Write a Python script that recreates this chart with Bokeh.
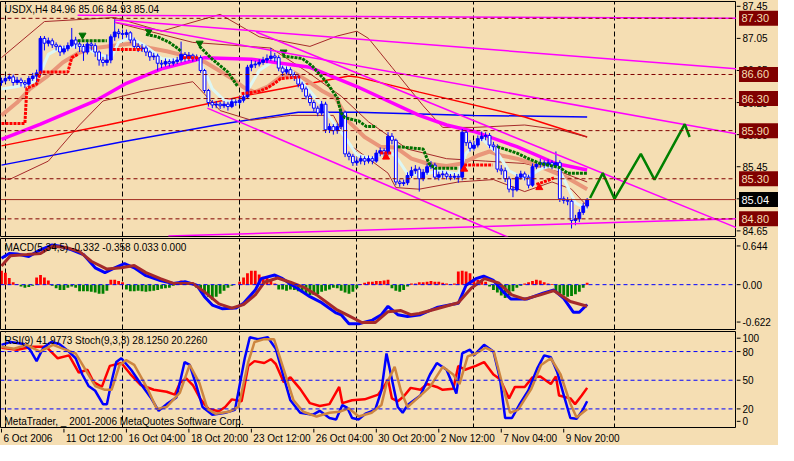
from bokeh.plotting import figure
from bokeh.layouts import column, row
from bokeh.models import ColumnDataSource, FixedTicker, Span, Label, Range1d
from bokeh.core.properties import value
from bokeh.embed import file_html
from bokeh.resources import INLINE

BG = "#F5DEB3"
FONT = "Liberation Sans"

# ---------------- price data (H4 bars, index 0 = 6 Oct 2006 20:00) ----------------
OPENS = [86.50,86.52,86.55,86.57,86.50,86.53,86.50,86.48,86.55,86.58,
 86.62,87.05,86.99,87.02,86.97,86.95,86.88,86.92,86.96,87.03,
 86.98,86.95,86.88,86.98,86.96,86.88,86.78,86.75,86.78,87.07,
 87.13,87.11,87.10,87.12,87.03,86.95,86.92,86.93,86.88,86.82,
 86.83,86.74,86.73,86.76,86.74,86.76,86.78,86.85,86.80,86.84,
 86.80,86.81,86.65,86.40,86.25,86.22,86.23,86.21,86.23,86.20,
 86.26,86.25,86.28,86.32,86.69,86.72,86.73,86.75,86.78,86.80,
 86.83,86.81,86.68,86.63,86.66,86.60,86.57,86.48,86.42,86.33,
 86.25,86.18,86.12,86.23,85.91,85.95,85.90,85.95,86.13,85.61,
 85.58,85.50,85.52,85.55,85.52,85.55,85.52,85.62,85.65,85.62,
 85.83,85.78,85.26,85.24,85.25,85.34,85.40,85.42,85.30,85.38,
 85.45,85.47,85.32,85.35,85.36,85.33,85.32,85.33,85.32,85.88,
 85.75,85.68,85.72,85.80,85.83,85.84,85.72,85.70,85.42,85.40,
 85.30,85.17,85.16,85.32,85.36,85.32,85.22,85.45,85.48,85.50,
 85.47,85.50,85.46,85.50,85.05,85.03,85.02,84.78,84.80,84.88,
 84.96]
HIGHS = [86.56,86.58,86.61,86.60,86.57,86.56,86.53,86.58,86.62,86.66,
 87.08,87.08,87.06,87.05,87.00,86.97,86.96,87.00,87.18,87.07,
 87.02,86.98,87.02,87.01,86.99,86.90,86.82,86.85,87.10,87.29,
 87.17,87.16,87.16,87.14,87.06,86.99,86.98,86.96,86.90,86.87,
 86.86,86.78,86.80,86.79,86.80,86.82,87.01,86.88,86.88,86.86,
 86.85,86.84,86.67,86.42,86.28,86.27,86.26,86.27,86.26,86.30,
 86.29,86.32,86.36,86.72,86.78,86.77,86.79,86.82,86.85,86.93,
 86.87,86.84,86.71,86.70,86.69,86.63,86.60,86.51,86.45,86.36,
 86.28,86.21,86.27,86.26,85.99,85.98,85.99,86.17,86.15,85.64,
 85.61,85.57,85.59,85.58,85.59,85.58,85.66,85.69,85.68,85.88,
 85.87,85.80,85.29,85.29,85.38,85.45,85.47,85.45,85.42,85.49,
 85.52,85.50,85.39,85.40,85.39,85.36,85.37,85.36,85.92,85.90,
 85.78,85.77,85.84,85.89,85.88,85.87,85.76,85.73,85.47,85.44,
 85.33,85.21,85.36,85.40,85.39,85.35,85.49,85.52,85.55,85.53,
 85.54,85.53,85.64,85.53,85.08,85.07,85.05,84.85,84.92,85.00,
 85.06]
LOWS = [86.46,86.49,86.52,86.46,86.47,86.45,86.43,86.45,86.52,86.50,
 86.58,86.90,86.95,86.93,86.90,86.83,86.85,86.89,86.94,86.92,
 86.88,86.77,86.85,86.90,86.82,86.71,86.70,86.71,86.74,87.02,
 87.05,87.04,87.06,86.99,86.91,86.88,86.88,86.83,86.77,86.78,
 86.65,86.68,86.70,86.70,86.71,86.73,86.75,86.76,86.77,86.76,
 86.77,86.62,86.37,86.20,86.18,86.18,86.17,86.18,86.15,86.18,
 86.21,86.22,86.25,86.30,86.64,86.68,86.70,86.72,86.74,86.77,
 86.76,86.64,86.58,86.60,86.56,86.52,86.44,86.38,86.29,86.21,
 86.14,86.08,86.09,85.87,85.87,85.85,85.86,85.92,85.57,85.53,
 85.46,85.46,85.48,85.47,85.49,85.48,85.50,85.58,85.57,85.59,
 85.73,85.22,85.20,85.21,85.22,85.31,85.36,85.14,85.27,85.35,
 85.42,85.29,85.28,85.31,85.29,85.28,85.29,85.25,85.28,85.71,
 85.64,85.65,85.69,85.77,85.78,85.68,85.65,85.38,85.35,85.26,
 85.13,85.07,85.14,85.29,85.28,85.18,85.20,85.42,85.44,85.43,
 85.44,85.42,85.43,85.01,84.99,84.97,84.68,84.72,84.76,84.85,
 84.93]
CLOSES = [86.52,86.55,86.57,86.50,86.53,86.50,86.48,86.55,86.58,86.62,
 87.05,86.99,87.02,86.97,86.95,86.88,86.92,86.96,87.03,86.98,
 86.95,86.88,86.98,86.96,86.88,86.78,86.75,86.78,87.07,87.13,
 87.11,87.10,87.12,87.03,86.95,86.92,86.93,86.88,86.82,86.83,
 86.74,86.73,86.76,86.74,86.76,86.78,86.85,86.80,86.84,86.80,
 86.81,86.65,86.40,86.25,86.22,86.23,86.21,86.23,86.20,86.26,
 86.25,86.28,86.32,86.69,86.72,86.73,86.75,86.78,86.80,86.83,
 86.81,86.68,86.63,86.66,86.60,86.57,86.48,86.42,86.33,86.25,
 86.18,86.12,86.23,85.91,85.95,85.90,85.95,86.13,85.61,85.58,
 85.50,85.52,85.55,85.52,85.55,85.52,85.62,85.65,85.62,85.83,
 85.78,85.26,85.24,85.25,85.34,85.40,85.42,85.30,85.38,85.45,
 85.47,85.32,85.35,85.36,85.33,85.32,85.33,85.32,85.88,85.75,
 85.68,85.72,85.80,85.83,85.84,85.72,85.70,85.42,85.40,85.30,
 85.17,85.16,85.32,85.36,85.32,85.22,85.45,85.48,85.50,85.47,
 85.50,85.46,85.50,85.05,85.03,85.02,84.78,84.80,84.88,84.96,
 85.04]

SYMBOL = "USDX,H4"
LEVELS = [87.30, 86.60, 86.30, 85.90, 85.30, 84.80]
PRICE_TICKS = [87.45, 87.05, 86.65, 86.25, 85.85, 85.45, 85.05, 84.65]
WEEK_GRID = [1, 31, 61, 91, 121, 157]
XLAB_IDX = [0, 16, 32, 48, 64, 80, 96, 112, 128, 144]
XLAB_TXT = ["6 Oct 2006", "11 Oct 12:00", "16 Oct 04:00", "18 Oct 20:00", "23 Oct 12:00",
            "26 Oct 04:00", "30 Oct 20:00", "2 Nov 12:00", "7 Nov 04:00", "9 Nov 20:00"]

# ---------------- moving averages / bands (bar index, price) ----------------
CYAN_I = [0,4,8,10,12,15,20,25,28,30,33,37,41,46,50,52,54,57,61,63,66,70,74,78,82,85,88,91,95,99,101,104,108,112,117,119,123,127,130,134,138,142,144,147,150]
CYAN_P = [86.42,86.45,86.50,86.62,86.85,86.93,86.96,86.85,86.80,87.00,87.06,86.95,86.80,86.78,86.80,86.65,86.42,86.28,86.25,86.40,86.65,86.78,86.66,86.45,86.22,86.00,85.82,85.60,85.55,85.65,85.58,85.36,85.35,85.40,85.36,85.62,85.80,85.62,85.40,85.30,85.42,85.48,85.30,85.00,84.92]
SALMON_I = [0,4,7.3,11.5,15.7,19.8,24,30.7,34,38,42.3,49,52.3,55.7,59,62.3,64.8,68.2,71.5,74.8,79,82.3,85.7,89,93,97,101,105,109,114,118,122,125,128,132,136,140,145,150]
SALMON_P = [86.09,86.25,86.42,86.57,86.75,86.87,86.93,86.97,86.99,86.93,86.89,86.81,86.75,86.65,86.55,86.43,86.38,86.45,86.57,86.63,86.50,86.39,86.30,86.01,85.82,85.70,85.69,85.55,85.49,85.46,85.49,85.59,85.64,85.59,85.55,85.49,85.41,85.31,85.17]
MAG_I = [0,10,24,32,41,49,52,64,79,91,107,114,121,132,142,150]
MAG_P = [85.79,85.98,86.27,86.49,86.67,86.77,86.81,86.79,86.69,86.45,86.09,85.97,85.89,85.70,85.49,85.41]
BLUE_I = [0,31,55,76,91,121,150]
BLUE_P = [85.47,85.76,85.97,86.13,86.13,86.09,86.07]
RED_I = [0,27,31,66,89,91,107,134,150]
RED_P = [85.71,85.97,86.01,86.37,86.58,86.57,86.38,86.07,85.82]
BROWN_A_I = [0,11,29,41,56,66,79,86,91,94,100,108,113,121,134,143,150]
BROWN_A_P = [86.81,87.26,87.31,87.14,87.35,87.07,86.95,87.08,87.14,87.05,86.69,86.21,85.94,85.94,85.97,85.91,85.82]
BROWN_B_I = [29,49,69,79,87,94,104,114,124,134,144,150]
BROWN_B_P = [87.25,87.00,86.93,86.61,86.33,86.01,85.67,85.55,85.52,85.49,85.37,85.26]
BROWN_C_I = [0,2,12,20,26,36,49,56,64,74,85,89,99,101,107,117,126,134,141,146,150]
BROWN_C_P = [85.31,85.29,85.52,85.97,86.27,86.39,86.51,86.15,86.03,86.09,86.09,85.73,85.37,85.19,85.17,85.26,85.29,85.14,85.26,85.17,84.96]

# stop-and-reverse dots (segments) and signal arrows
SAR_RED_I = [[0,6,6.5,9,10,17,18,19.5],[28.5,36],[46.5,50.5],[61.5,66,68,70,71.5,76.5],[97,100],[118.5,125.75],[137,140,141.5]]
SAR_RED_P = [[85.99,85.99,86.43,86.48,86.63,86.63,86.81,86.85],[86.91,86.91],[86.81,86.81],[86.36,86.39,86.43,86.49,86.55,86.57],[85.62,85.62],[85.47,85.47],[85.23,85.28,85.31]]
SAR_GRN_I = [[19.5,27],[37,40,43,45,46],[50.75,54,58,60.5],[72,77,79.5,83,86,87,88,91.5,93.5,96],[101.5,108,109.5,111,117],[127,132,135,138,143,145,150]]
SAR_GRN_P = [[87.02,87.02],[87.10,87.07,87.00,86.93,86.89],[86.95,86.79,86.63,86.45],[86.83,86.80,86.71,86.52,86.31,86.12,86.06,86.02,85.95,85.95],[85.70,85.67,85.49,85.43,85.43],[85.70,85.62,85.55,85.49,85.44,85.37,85.37]]
ARROW_DN_I = [20.75, 37.75, 50.75, 72.25]
ARROW_DN_P = [87.09, 87.14, 86.99, 86.88]
ARROW_UP_I = [98.5, 118.5, 137.75]
ARROW_UP_P = [85.57, 85.42, 85.19]

# trend lines (start/end in bar index, price)
TL_I = [[19.5,188.25],[29,188.25],[29,188.25],[65.25,188.25],[52.75,129.75],[42.75,188.25]]
TL_P = [[87.34,87.30],[87.28,86.67],[87.25,85.86],[87.13,84.69],[86.18,84.57],[84.585,84.80]]

# forecast zig-zag
ZZ_I = [150.75,154,157,163.75,167.25,175,176.25]
ZZ_P = [85.06,85.37,85.05,85.61,85.29,85.98,85.82]

# ---------------- MACD ----------------
MACD_HIST = [0.23,0.20,0.11,0.04,0.01,-0.03,-0.05,-0.04,-0.02,0.12,
 0.16,0.12,0.07,-0.02,-0.06,-0.09,-0.09,-0.05,-0.03,-0.05,
 -0.11,-0.11,-0.11,-0.12,-0.13,-0.15,-0.15,-0.10,0.08,0.08,
 0.06,0.04,-0.08,-0.11,-0.11,-0.10,-0.11,-0.12,-0.11,-0.10,
 -0.09,-0.07,-0.06,-0.05,-0.02,0.03,0.07,0.05,0.04,0.02,
 -0.05,-0.09,-0.15,-0.20,-0.25,-0.20,-0.15,-0.10,-0.05,-0.02,
 0.00,0.05,0.12,0.19,0.23,0.23,0.17,0.13,0.12,0.08,
 0.02,-0.08,-0.08,-0.10,-0.08,-0.09,-0.11,-0.13,-0.15,-0.17,
 -0.17,-0.16,-0.12,-0.10,-0.08,-0.05,-0.06,-0.10,-0.13,-0.15,
 -0.12,-0.06,0.01,0.03,0.05,0.05,0.06,0.06,0.07,0.08,
 -0.06,-0.10,-0.12,-0.09,-0.03,0.02,0.02,0.04,0.04,0.05,
 0.06,0.05,0.05,0.03,0.02,0.01,0.02,0.22,0.23,0.22,
 0.19,0.10,0.08,0.07,0.05,-0.03,-0.09,-0.13,-0.18,-0.22,
 -0.18,-0.11,-0.05,-0.02,0.02,0.04,0.06,0.08,0.07,0.04,
 0.02,0.01,-0.12,-0.15,-0.18,-0.20,-0.19,-0.16,-0.12,-0.05,
 0.03]
MACD_I = [0,2,4,7,10,13,15,18,21,24,26.5,29,31.5,34,37,40.7,44,47,50,52,54,56.5,60,62,65,66.5,70,72,75.7,79,82,85.7,87,89,91.5,95,97.3,99,101.5,104,107.3,111.5,116,117,119,121.5,123.5,126,128.5,130.5,134.5,138.7,141.5,144,146.5,148,150]
MACD_V = [0.44,0.52,0.51,0.47,0.58,0.66,0.64,0.58,0.50,0.28,0.20,0.28,0.35,0.28,0.15,0.07,0.02,0.05,-0.01,-0.20,-0.34,-0.40,-0.39,-0.31,-0.09,0.10,0.16,0.10,-0.06,-0.20,-0.30,-0.47,-0.50,-0.65,-0.65,-0.59,-0.50,-0.36,-0.50,-0.53,-0.50,-0.38,-0.32,-0.31,-0.01,0.10,0.14,0.07,-0.12,-0.24,-0.24,-0.14,-0.09,-0.23,-0.46,-0.46,-0.33]
SIG_I = [0,2.3,6.5,10,13,16.5,20,23,27,30.7,34,37,40.7,44,49,52,55.7,59,62,65,67.3,70.7,74,77.3,80.7,85.7,89,92.3,95.7,99,102.3,104.8,107,111.5,117,120.3,123.7,127.3,130.7,134,138,141.5,145.7,150]
SIG_V = [0.31,0.48,0.50,0.52,0.64,0.62,0.55,0.39,0.26,0.28,0.32,0.20,0.10,0.02,0.02,-0.12,-0.32,-0.39,-0.33,-0.17,0.04,0.11,0.04,-0.04,-0.17,-0.41,-0.52,-0.63,-0.63,-0.45,-0.43,-0.50,-0.48,-0.40,-0.30,-0.06,0.10,0.03,-0.17,-0.24,-0.17,-0.10,-0.28,-0.36]
MACD_TICKS = [0.644, 0.0, -0.622]
MACD_TICK_TXT = ["0.644", "0.00", "-0.622"]
MACD_TITLE = "MACD(5,34,5) -0.332 -0.358 0.033 0.000"

# ---------------- RSI / Stochastic ----------------
RSI_I = [0,4,8,11.5,14.4,17.3,19.8,22,23.6,25.7,27.75,30.7,33,35.7,39,42.3,44.4,45.7,47.3,49,51,53,55.7,57.3,59,61.5,63.2,64.8,67.3,69,70.25,72.3,74,76.5,79,81.5,84,86.5,87.3,89.8,93,96.5,98.2,99,100,101.5,103,104.8,107.3,109,111.5,113,115.7,117,118.7,121.5,123.6,126,127.7,130,131.5,134,136,138,140.7,142,142.8,145.7,146.9,148.6,150]
RSI_V = [84,82,85,85,73,76,58,61,48,43,65,68,56.5,45,40,38,35,47,52,45,30,20,17.5,22,30,28,65,70,68,72,67,48,53,41,26,23,25,43,26,29,30,35,45,51,31,28,33,42,40,46,43,40,41,65,61,65,69,56,51,31,43,43,53,54,46,54,34,31,25,34,42]
STO_I = [0,2.3,5.7,7.3,9,10.7,12.75,14.8,17,19,20.7,22.3,24,26,27,28.2,29.4,30.7,33.2,35.7,38.2,40.25,42.3,44.8,46.9,48.2,49.8,51.5,54,57.3,59.8,62.3,63.6,65.7,68.2,70.25,72.3,74,76.5,79.8,81.5,84,85.7,87.3,88.6,89.8,91.5,93.2,95.7,97.3,98.6,100.25,101.5,102.75,104,107.3,109.75,111.5,114,116.5,118,120,121,123.6,126,127.7,129,130.75,132.8,134.9,137.3,139,140.7,142.3,144.4,145.7,147.3,148.6,150]
STO_V = [87,90,88,82,70,84,90,88,81,73,56,44,39,25,25,49,69,73,61,46,32,18,25,32,69,66,46,22,14,16,19,73,95,93,95,83,53,29,16,14,18,10.5,9,24,21,10.5,9,15,19,39,78,46,22,16,24,34,56,68,61,36,78,82,76,87,80,51,10.5,10.5,25.5,39,63,76,74,59,29,10.5,9.6,17,28]
STS_I = [0,3.2,6.5,9.8,13.2,15.7,19,21.5,24,26.5,28.2,30.25,31.9,34,37.3,39.8,42.3,45.7,48.2,50.7,52.75,54.8,58.2,60.7,63.2,64.8,67.3,69.8,72.3,74.8,77.3,80.7,84,86.5,89,91.5,94.8,97.3,98.6,100.7,102.3,104,106.5,109.75,113,115.7,117.3,119.4,121.5,124,126.1,128.2,130.25,132.3,135.7,138.2,140.7,143.2,145.7,147.3,150]
STS_V = [85,83,87,80,87,83,78,61,44,40,40,66,71,66,42,20,22,37,66,47,20,15,17,22,69,90,93,93,61,29,17,12,16,17,20.5,12,16,24,46,64,39,22,31,43,64,56,46,75,78,84,80,47,16,19,41,66,73,56,25.5,11,20]
RSI_LEVELS = [80, 50, 20]
RSI_TICKS = [94, 80, 50, 20, 7]
RSI_TICK_TXT = ["100", "80", "50", "20", "0"]
RSI_TITLE = "RSI(9) 41.9773  Stoch(9,3,3) 28.1250 20.2260"
COPYRIGHT = "MetaTrader, _ 2001-2006 MetaQuotes Software Corp."

# ---------------- layout ----------------
X0, X1 = -0.25, 188.25
xr = Range1d(X0, X1)
FW = 736      # chart frame width (px)
SW = 42       # price-scale strip width (px)


def make_fig(fh, yr, top, bottom):
    p = figure(frame_width=FW, frame_height=fh, x_range=xr, y_range=yr,
               output_backend="svg", toolbar_location=None,
               min_border_left=0, min_border_right=0, min_border_top=top,
               min_border_bottom=bottom, background_fill_color=BG, border_fill_color=BG,
               outline_line_color="black", outline_line_width=1)
    p.axis.visible = False
    p.ygrid.visible = False
    p.xgrid.ticker = FixedTicker(ticks=WEEK_GRID)
    p.xgrid.grid_line_color = "black"
    p.xgrid.grid_line_dash = "5 3"
    p.xgrid.grid_line_width = 1
    return p


def make_scale(fh, yr, top, bottom, ticks, tick_txt):
    s = figure(frame_width=SW, frame_height=fh, x_range=Range1d(0, SW), y_range=yr,
               output_backend="svg", toolbar_location=None,
               min_border_left=0, min_border_right=0, min_border_top=top,
               min_border_bottom=bottom, background_fill_color=BG, border_fill_color=BG,
               outline_line_color=None)
    s.axis.visible = False
    s.grid.visible = False
    s.segment(x0=0, y0=ticks, x1=4, y1=ticks, line_color="black", line_width=1)
    s.text(x=6, y=ticks, text=tick_txt, text_baseline="middle", text_align="left",
           text_font=value(FONT), text_font_size="10px", text_color="black")
    return s


def title(p, text, y, baseline, yoff):
    p.add_layout(Label(x=X0, y=y, x_offset=4, y_offset=yoff, text=text, text_font=FONT,
                       text_font_size="10px", text_color="black", text_baseline=baseline))


# ---- main price panel ----
yr1 = Range1d(84.58, 87.51)
p1 = make_fig(235, yr1, 1, 2)

for lv in LEVELS:
    p1.add_layout(Span(location=lv, dimension="width", line_color="#800000",
                       line_dash="4 3", line_width=1))
p1.add_layout(Span(location=CLOSES[-1], dimension="width", line_color="#A0281E", line_width=1))

p1.line(BLUE_I, BLUE_P, line_color="#0000FF", line_width=1.5)
p1.line(RED_I, RED_P, line_color="#FF0000", line_width=1.5)
for bi, bp in ((BROWN_A_I, BROWN_A_P), (BROWN_B_I, BROWN_B_P), (BROWN_C_I, BROWN_C_P)):
    p1.line(bi, bp, line_color="#A52A2A", line_width=1)
p1.line(SALMON_I, SALMON_P, line_color="#E9967A", line_width=4)
p1.line(CYAN_I, CYAN_P, line_color="#DDF7F4", line_width=3)
p1.line(MAG_I, MAG_P, line_color="#FF00FF", line_width=3.5)

idx = list(range(len(CLOSES)))
p1.segment(x0=idx, y0=LOWS, x1=idx, y1=HIGHS, line_color="#0000FF", line_width=1)
bull = [i for i in idx if CLOSES[i] >= OPENS[i]]
bear = [i for i in idx if CLOSES[i] < OPENS[i]]
p1.vbar(x=bull, top=[CLOSES[i] for i in bull], bottom=[OPENS[i] for i in bull], width=0.72,
        fill_color="#0000FF", line_color="#0000FF", line_width=1)
p1.vbar(x=bear, top=[OPENS[i] for i in bear], bottom=[CLOSES[i] for i in bear], width=0.72,
        fill_color="white", line_color="#0000FF", line_width=1)

p1.multi_line(SAR_RED_I, SAR_RED_P, line_color="#FF0000", line_width=3, line_dash="3 1")
p1.multi_line(SAR_GRN_I, SAR_GRN_P, line_color="#007000", line_width=3, line_dash="3 1")
p1.scatter(ARROW_DN_I, ARROW_DN_P, marker="inverted_triangle", size=7,
           fill_color="#007000", line_color="#007000")
p1.scatter(ARROW_UP_I, ARROW_UP_P, marker="triangle", size=7,
           fill_color="#FF0000", line_color="#FF0000")
p1.multi_line(TL_I, TL_P, line_color="#FF00FF", line_width=1.5)
p1.line(ZZ_I, ZZ_P, line_color="#008000", line_width=2.5)
title(p1, f"{SYMBOL}  {OPENS[-1]:.2f} {HIGHS[-1]:.2f} {LOWS[-1]:.2f} {CLOSES[-1]:.2f}",
      yr1.end, "top", -2)

s1 = make_scale(235, yr1, 1, 2, PRICE_TICKS, [f"{t:.2f}" for t in PRICE_TICKS])
box_y = LEVELS + [CLOSES[-1]]
box_txt = [f"{v:.2f}" for v in box_y]
box_fill = ["#800000"] * len(LEVELS) + ["black"]
box_tc = [BG] * len(LEVELS) + ["white"]
s1.rect(x=SW / 2 + 1, y=box_y, width=SW - 3, height=15, height_units="screen",
        fill_color=box_fill, line_color=None)
s1.text(x=5, y=box_y, text=box_txt, text_baseline="middle", text_align="left",
        text_font=value(FONT), text_font_size="11px", text_color=box_tc)

# ---- MACD panel ----
yr2 = Range1d(-0.746, 0.768)
p2 = make_fig(91, yr2, 0, 2)
p2.add_layout(Span(location=0, dimension="width", line_color="#0000FF", line_dash="4 3", line_width=1))
hist_col = ["#FF0000" if v > 0 else "#008000" for v in MACD_HIST]
src_h = ColumnDataSource(dict(x=idx, top=MACD_HIST, c=hist_col))
p2.vbar(x="x", top="top", bottom=0, width=0.72, fill_color="c", line_color=None, source=src_h)
p2.line(MACD_I, MACD_V, line_color="#0000FF", line_width=3)
p2.line(SIG_I, SIG_V, line_color="#A52A2A", line_width=3)
title(p2, MACD_TITLE, yr2.end, "top", -3)
s2 = make_scale(91, yr2, 0, 2, MACD_TICKS, MACD_TICK_TXT)

# ---- RSI / Stochastic panel ----
yr3 = Range1d(-0.5, 101)
p3 = make_fig(97, yr3, 0, 0)
for lv in RSI_LEVELS:
    p3.add_layout(Span(location=lv, dimension="width", line_color="#0000FF", line_dash="4 3", line_width=1))
p3.line(RSI_I, RSI_V, line_color="#FF0000", line_width=2.5)
p3.line(STO_I, STO_V, line_color="#0000FF", line_width=2.5)
p3.line(STS_I, STS_V, line_color="#CD853F", line_width=2.5)
title(p3, RSI_TITLE, yr3.end, "top", -3)
title(p3, COPYRIGHT, yr3.start, "bottom", 2)
s3 = make_scale(97, yr3, 0, 0, RSI_TICKS, RSI_TICK_TXT)

# ---- time scale strip ----
p4 = figure(frame_width=FW, frame_height=17, x_range=xr, y_range=Range1d(0, 17),
            output_backend="svg", toolbar_location=None, min_border_left=0, min_border_right=0,
            min_border_top=0, min_border_bottom=0, background_fill_color=BG,
            border_fill_color=BG, outline_line_color=None)
p4.axis.visible = False
p4.grid.visible = False
p4.segment(x0=XLAB_IDX, y0=17, x1=XLAB_IDX, y1=13, line_color="black", line_width=1)
p4.text(x=XLAB_IDX, y=13, text=XLAB_TXT, x_offset=2, text_baseline="top", text_align="left",
        text_font=value(FONT), text_font_size="10px", text_color="black")

layout = column(row(p1, s1, spacing=0), row(p2, s2, spacing=0), row(p3, s3, spacing=0), p4,
                spacing=0, styles={"background-color": BG})

open("out.html", "w").write(file_html(layout, INLINE))
